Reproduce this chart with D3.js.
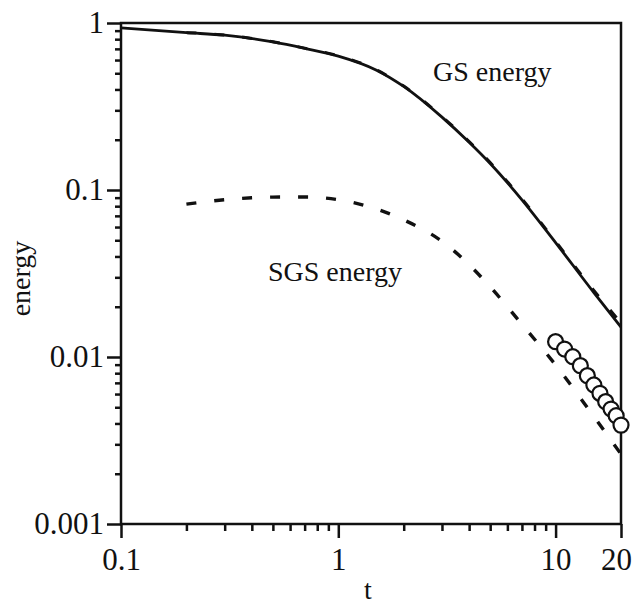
<!DOCTYPE html>
<html>
<head>
<meta charset="utf-8">
<script src="https://cdn.jsdelivr.net/npm/d3@7"></script>
<style>
  html, body { margin: 0; padding: 0; background: #fff; }
  svg { display: block; }
  text { font-family: "Liberation Serif", "Times New Roman", serif; fill: #111; }
</style>
</head>
<body>
<svg id="chart" width="634" height="604"></svg>
<script>
// Grid-scale (GS) energy, solid curve
const gsT = [0.1, 0.2, 0.3, 0.5, 0.7, 1, 1.5, 2, 3, 4, 5, 7, 10, 15, 20];
const gsE = [0.935, 0.875, 0.845, 0.77, 0.705, 0.634, 0.522, 0.417, 0.273, 0.193, 0.144, 0.0873, 0.0484, 0.0243, 0.0151];

// Model prediction of GS energy, dashed curve lying on the solid one
const gsModelT = [0.2, 0.3, 0.5, 0.7, 1, 1.5, 2, 3, 4, 5, 7, 10, 15, 20];
const gsModelE = [0.876, 0.846, 0.772, 0.707, 0.636, 0.524, 0.419, 0.275, 0.195, 0.146, 0.0885, 0.0492, 0.0250, 0.0160];

// Subgrid-scale (SGS) energy, dashed curve
const sgsT = [0.2, 0.3, 0.4, 0.5, 0.7, 1, 1.5, 2, 3, 4, 5, 7, 10, 15, 20];
const sgsE = [0.0823, 0.0875, 0.0898, 0.0907, 0.0908, 0.0875, 0.0769, 0.0662, 0.0493, 0.0357, 0.0263, 0.0157, 0.00896, 0.00440, 0.00262];

// Reference SGS energy, open circles
const refT = [10, 11, 12, 13, 14, 15, 16, 17, 18, 19, 20];
const refE = [0.01235, 0.01116, 0.01004, 0.00887, 0.00773, 0.00680, 0.00606, 0.00540, 0.00488, 0.00445, 0.00391];

// Axis ticks
const xMajor = [0.1, 1, 10, 20];
const xMajorLabels = ["0.1", "1", "10", "20"];
const xMinor = [0.2, 0.3, 0.4, 0.5, 0.6, 0.7, 0.8, 0.9, 2, 3, 4, 5, 6, 7, 8, 9];
const yMajor = [0.001, 0.01, 0.1, 1];
const yMajorLabels = ["0.001", "0.01", "0.1", "1"];
const yMinor = [];
[0.001, 0.01, 0.1].forEach(d => { for (let k = 2; k <= 9; k++) yMinor.push(+(d * k).toPrecision(3)); });

const svg = d3.select("#chart");
const plotLeft = 121, plotRight = 621, plotTop = 23, plotBottom = 524;

const x = d3.scaleLog().domain([0.1, 20]).range([plotLeft, plotRight]);
const y = d3.scaleLog().domain([0.001, 1]).range([plotBottom, plotTop]);

const FS = 28;       // titles and annotations
const FS_TICK = 31;  // tick labels

// Plot frame
svg.append("rect")
  .attr("x", plotLeft).attr("y", plotTop)
  .attr("width", plotRight - plotLeft).attr("height", plotBottom - plotTop)
  .attr("fill", "none").attr("stroke", "#111").attr("stroke-width", 2.5);

// X axis ticks
const gx = svg.append("g").attr("transform", `translate(0,${plotBottom})`);
gx.append("g").call(d3.axisBottom(x).tickValues(xMinor).tickSize(7).tickFormat(""));
gx.append("g").call(d3.axisBottom(x).tickValues(xMajor).tickSize(14)
  .tickFormat((d, i) => xMajorLabels[i]).tickPadding(10));
gx.selectAll(".domain").remove();
gx.selectAll("line").attr("stroke", "#111").attr("stroke-width", 2.5);
gx.selectAll("text").attr("font-size", FS_TICK).attr("fill", "#111")
  .attr("font-family", "Liberation Serif, serif");
// keep the last label inside the page
gx.selectAll(".tick text").filter(d => d === 20).attr("dx", -5);

// Y axis ticks
const gy = svg.append("g").attr("transform", `translate(${plotLeft},0)`);
gy.append("g").call(d3.axisLeft(y).tickValues(yMinor).tickSize(6).tickFormat(""));
gy.append("g").call(d3.axisLeft(y).tickValues(yMajor).tickSize(14)
  .tickFormat((d, i) => yMajorLabels[i]).tickPadding(3));
gy.selectAll(".domain").remove();
gy.selectAll("line").attr("stroke", "#111").attr("stroke-width", 2.5);
gy.selectAll("text").attr("font-size", FS_TICK).attr("fill", "#111")
  .attr("font-family", "Liberation Serif, serif");

// Axis titles
svg.append("text").attr("x", (plotLeft + plotRight) / 2 - 3).attr("y", 599)
  .attr("text-anchor", "middle").attr("font-size", FS).text("t");
svg.append("text")
  .attr("transform", `translate(30,${(plotTop + plotBottom) / 2 + 5}) rotate(-90)`)
  .attr("text-anchor", "middle").attr("font-size", FS).text("energy");

// Curves
const line = d3.line().x(d => x(d[0])).y(d => y(d[1])).curve(d3.curveMonotoneX);
const zip = (a, b) => a.map((v, i) => [v, b[i]]);

svg.append("path").datum(zip(gsModelT, gsModelE))
  .attr("d", line).attr("fill", "none").attr("stroke", "#111")
  .attr("stroke-width", 3).attr("stroke-dasharray", "10,18");

svg.append("path").datum(zip(gsT, gsE))
  .attr("d", line).attr("fill", "none").attr("stroke", "#111")
  .attr("stroke-width", 2.8);

svg.append("path").datum(zip(sgsT, sgsE))
  .attr("d", line).attr("fill", "none").attr("stroke", "#111")
  .attr("stroke-width", 3.4).attr("stroke-dasharray", "10,18");

svg.append("g").selectAll("circle").data(zip(refT, refE)).join("circle")
  .attr("cx", d => x(d[0])).attr("cy", d => y(d[1])).attr("r", 7.5)
  .attr("fill", "#fff").attr("stroke", "#111").attr("stroke-width", 2.2);

// Curve annotations
svg.append("text").attr("x", 433).attr("y", 81).attr("font-size", FS).text("GS energy");
svg.append("text").attr("x", 268).attr("y", 281).attr("font-size", FS).text("SGS energy");
</script>
</body>
</html>
